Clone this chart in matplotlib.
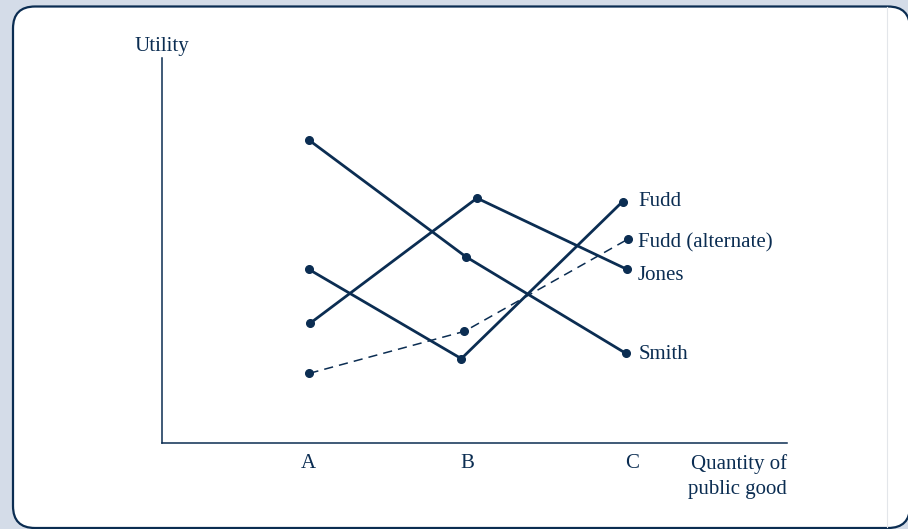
import matplotlib
matplotlib.use("Agg")
import matplotlib.pyplot as plt
from matplotlib.patches import FancyBboxPatch
from matplotlib.lines import Line2D
from matplotlib.transforms import IdentityTransform

NAVY = "#0b2d52"

# x positions: A, B, C on a 0-10 axis; y: utility on a 0-10 axis
tick_pos = [2.35, 4.88, 7.52]
tick_labels = ["A", "B", "C"]

smith_x = [2.35, 4.86, 7.42]
smith_y = [7.87, 4.84, 2.33]
jones_x = [2.37, 5.04, 7.44]
jones_y = [3.11, 6.36, 4.51]
fudd_x = [2.35, 4.79, 7.37]
fudd_y = [4.51, 2.19, 6.27]
alt_x = [2.36, 4.84, 7.45]
alt_y = [1.81, 2.90, 5.29]

plt.rcParams["font.family"] = ["Liberation Serif", "DejaVu Serif"]
FS = 15

fig = plt.figure(figsize=(9.08, 5.29), dpi=100, facecolor="#d4dce8")
# white rounded panel (pixel coords, origin bottom-left)
frame = FancyBboxPatch((13, 1), 897, 521.5, boxstyle="round,pad=0,rounding_size=22",
                       transform=IdentityTransform(), facecolor="white", edgecolor=NAVY,
                       lw=1.6, zorder=-2)
fig.patches.append(frame)
fig.lines.append(Line2D([887, 887], [2, 522], transform=IdentityTransform(),
                        color="#e3e6ea", lw=0.8, zorder=-1))

ax = fig.add_axes([0.1784, 0.1626, 0.6883, 0.7278])
ax.set_facecolor("none")
ax.set_xlim(0, 10)
ax.set_ylim(0, 10)
for s in ["top", "right"]:
    ax.spines[s].set_visible(False)
for s in ["left", "bottom"]:
    ax.spines[s].set_color(NAVY)
    ax.spines[s].set_linewidth(1.1)
ax.set_yticks([])
ax.set_xticks(tick_pos)
ax.set_xticklabels(tick_labels, fontsize=FS, color=NAVY)
ax.tick_params(axis="x", length=0, pad=8)

solid = dict(color=NAVY, lw=2.0, marker="o", ms=5.5, solid_capstyle="round")
ax.plot(smith_x, smith_y, **solid)
ax.plot(jones_x, jones_y, **solid)
ax.plot(fudd_x, fudd_y, **solid)
ax.plot(alt_x, alt_y, color=NAVY, lw=1.1, ls=(0, (6, 4)), marker="o", ms=5.5)

lab = dict(fontsize=FS, color=NAVY, va="center", ha="left")
ax.text(fudd_x[-1] + 0.25, fudd_y[-1] + 0.0, "Fudd", **lab)
ax.text(alt_x[-1] + 0.17, alt_y[-1] - 0.08, "Fudd (alternate)", **lab)
ax.text(jones_x[-1] + 0.17, jones_y[-1] - 0.15, "Jones", **lab)
ax.text(smith_x[-1] + 0.2, smith_y[-1] - 0.02, "Smith", **lab)

ax.text(0, 10.05, "Utility", fontsize=FS, color=NAVY, ha="center", va="bottom")
ax.text(10, -0.28, "Quantity of\npublic good", fontsize=FS, color=NAVY, ha="right", va="top",
        multialignment="right", linespacing=1.42)

fig.savefig("out.png", dpi=100, facecolor=fig.get_facecolor())
